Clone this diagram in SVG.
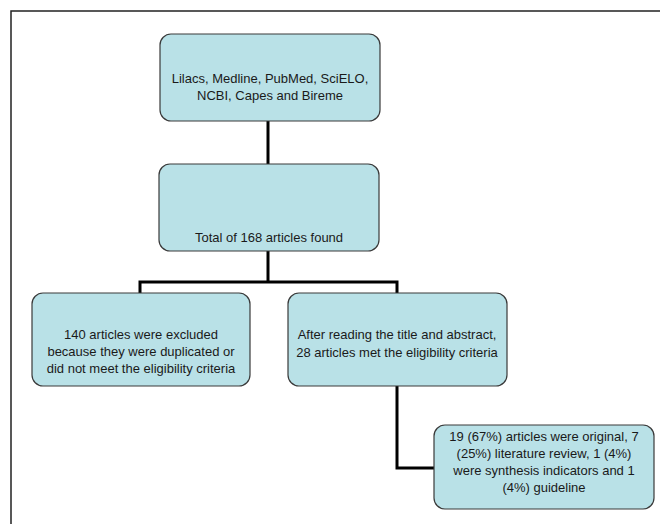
<svg xmlns="http://www.w3.org/2000/svg" width="660" height="524" viewBox="0 0 660 524">
<style>
.box{fill:#b9e1e7;stroke:#3a3a3a;stroke-width:1.2}
.t{font-family:"Liberation Sans",Arial,sans-serif;font-size:13px;fill:#1a1a1a;text-anchor:middle}
.c{fill:none;stroke:#000;stroke-width:3}
</style>
<rect x="0" y="0" width="660" height="524" fill="#fff"/>
<path d="M11,524 V11 H660" fill="none" stroke="#222" stroke-width="1.5"/>
<g id="connectors">
<path class="c" d="M268,121 V164"/>
<path class="c" d="M268,251 V282"/>
<path class="c" d="M140,293 V282 H397 V293"/>
<path class="c" d="M397,386 V468 H434"/>
</g>
<g id="n1">
<rect class="box" x="160" y="34" width="220" height="87" rx="11"/>
<text class="t" x="270" y="83">Lilacs, Medline, PubMed, SciELO,</text>
<text class="t" x="270" y="100">NCBI, Capes and Bireme</text>
</g>
<g id="n2">
<rect class="box" x="159" y="164" width="220" height="87" rx="11"/>
<text class="t" x="269" y="242">Total of 168 articles found</text>
</g>
<g id="n3">
<rect class="box" x="32" y="293" width="218" height="93" rx="11"/>
<text class="t" x="141" y="339">140 articles were excluded</text>
<text class="t" x="141" y="356">because they were duplicated or</text>
<text class="t" x="141" y="373">did not meet the eligibility criteria</text>
</g>
<g id="n4">
<rect class="box" x="288" y="293" width="219" height="93" rx="11"/>
<text class="t" x="397" y="339">After reading the title and abstract,</text>
<text class="t" x="397" y="357">28 articles met the eligibility criteria</text>
</g>
<g id="n5">
<rect class="box" x="434" y="425" width="220" height="84" rx="11"/>
<text class="t" x="544" y="441">19 (67%) articles were original, 7</text>
<text class="t" x="544" y="458">(25%) literature review, 1 (4%)</text>
<text class="t" x="544" y="475">were synthesis indicators and 1</text>
<text class="t" x="544" y="492">(4%) guideline</text>
</g>
</svg>
